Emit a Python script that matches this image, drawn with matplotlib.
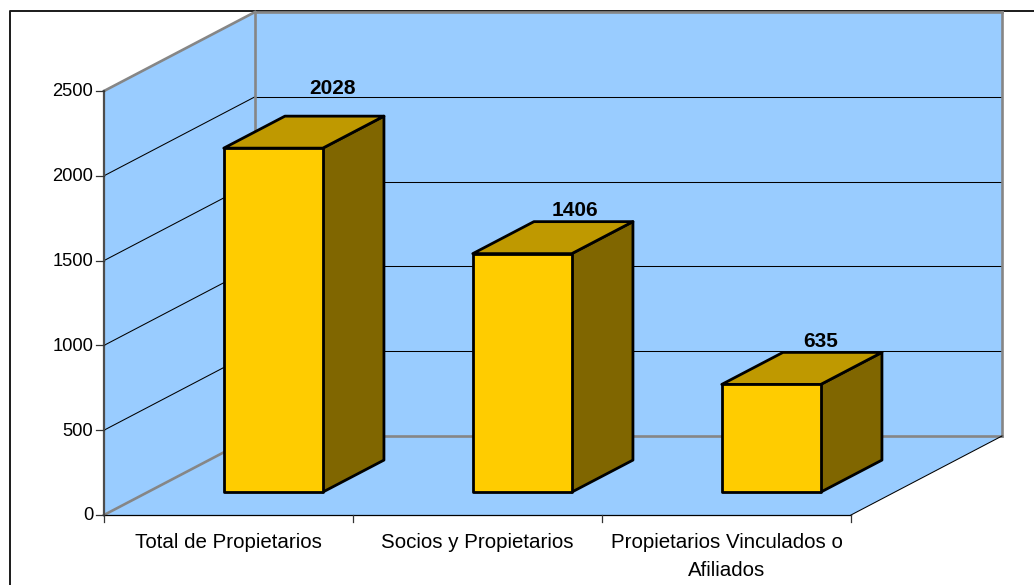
import matplotlib
matplotlib.use("Agg")
import matplotlib.pyplot as plt
from matplotlib.patches import Polygon

plt.rcParams["font.family"] = ["Liberation Sans", "DejaVu Sans"]

categories = ["Total de Propietarios", "Socios y Propietarios",
              "Propietarios Vinculados o\nAfiliados"]
values = [2028, 1406, 635]
y_ticks = [0, 500, 1000, 1500, 2000, 2500]

# chart box layout in pixels
X0, Y0 = 104, 515          # front corner of the value axis at zero
CAT_W = 249                # width of one category along the floor
PX_PER_UNIT = 424 / 2500
DEPTH_X, DEPTH_Y = 151, -79
BAR_W = 99
BAR_SHIFT = 1
BAR_D0, BAR_D1 = 0.29, 0.695   # bar front and back as fraction of chart depth
LABEL_OFFSETS = [(-2, -28), (-9, -11), (-12, -11)]  # from the bar's back top centre

WALL = "#99CCFF"
GRAY = "#868686"
BAR_FRONT = "#FFCC00"
BAR_TOP = "#BF9900"
BAR_SIDE = "#806600"


def pt(x, v=0, d=0.0):
    """Project axis x (px along the floor), value v and depth d to the canvas."""
    return (X0 + x + DEPTH_X * d, Y0 - v * PX_PER_UNIT + DEPTH_Y * d)


fig = plt.figure(figsize=(10.34, 5.85), dpi=100, facecolor="white")
ax = fig.add_axes([0, 0, 1, 1])
ax.set_xlim(0, 1034)
ax.set_ylim(585, 0)
ax.axis("off")

# outer frame runs off the canvas on the right and bottom
ax.plot([10, 10, 1040], [590, 10.5, 10.5], color="#1a1a1a", lw=1.4, zorder=1)

n = len(categories)
full_w = CAT_W * n
vmax = y_ticks[-1]

# walls and floor
ax.add_patch(Polygon([pt(0, 0, 1), pt(full_w, 0, 1), pt(full_w, vmax, 1), pt(0, vmax, 1)],
                     fc=WALL, ec="none", zorder=2))
ax.add_patch(Polygon([pt(0, 0, 0), pt(0, 0, 1), pt(0, vmax, 1), pt(0, vmax, 0)],
                     fc=WALL, ec="none", zorder=2))
ax.add_patch(Polygon([pt(0, 0, 0), pt(full_w, 0, 0), pt(full_w, 0, 1), pt(0, 0, 1)],
                     fc=WALL, ec="none", zorder=2))


def seg(a, b, **kw):
    ax.plot([a[0], b[0]], [a[1], b[1]], solid_capstyle="projecting", **kw)


# gridlines on the two walls
for v in y_ticks[1:-1]:
    seg(pt(0, v, 0), pt(0, v, 1), color="black", lw=0.75, zorder=3)
    seg(pt(0, v, 1), pt(full_w, v, 1), color="black", lw=0.75, zorder=3)

# wall outlines
seg(pt(0, vmax, 0), pt(0, vmax, 1), color=GRAY, lw=1.9, zorder=3)
seg(pt(0, vmax, 1), pt(full_w, vmax, 1), color=GRAY, lw=1.9, zorder=3)
seg(pt(full_w, vmax, 1), pt(full_w, 0, 1), color=GRAY, lw=1.9, zorder=3)
seg(pt(0, vmax, 1), pt(0, 0, 1), color=GRAY, lw=1.9, zorder=3)
seg(pt(0, 0, 1), pt(full_w, 0, 1), color=GRAY, lw=1.9, zorder=3)
seg(pt(0, 0, 0), pt(0, 0, 1), color=GRAY, lw=1.9, zorder=3)

# floor front and right edges
seg(pt(0, 0, 0), pt(full_w, 0, 0), color="black", lw=0.9, zorder=3)
seg(pt(full_w, 0, 0), pt(full_w, 0, 1), color="black", lw=0.75, zorder=3)

# value axis
seg(pt(0, 0, 0), pt(0, vmax, 0), color="#4d4d4d", lw=1.6, zorder=4)
for v in y_ticks:
    x, y = pt(0, v, 0)
    ax.plot([x - 8, x], [y, y], color="#333333", lw=0.9, zorder=4)
    ax.text(x - 11, y + 1, str(v), ha="right", va="center", fontsize=13.2, color="black", zorder=6)

# category axis ticks
for i in range(n + 1):
    x, y = pt(CAT_W * i, 0, 0)
    ax.plot([x, x], [y, y + 7], color="#333333", lw=0.9, zorder=4)

# bars, drawn as three faces
for i, (name, val) in enumerate(zip(categories, values)):
    left = CAT_W * (i + 0.5) - BAR_W / 2 + BAR_SHIFT
    right = left + BAR_W
    front = [pt(left, 0, BAR_D0), pt(right, 0, BAR_D0), pt(right, val, BAR_D0), pt(left, val, BAR_D0)]
    side = [pt(right, 0, BAR_D0), pt(right, 0, BAR_D1), pt(right, val, BAR_D1), pt(right, val, BAR_D0)]
    top = [pt(left, val, BAR_D0), pt(right, val, BAR_D0), pt(right, val, BAR_D1), pt(left, val, BAR_D1)]
    for verts, color in ((side, BAR_SIDE), (top, BAR_TOP), (front, BAR_FRONT)):
        ax.add_patch(Polygon(verts, fc=color, ec="black", lw=2.0, joinstyle="round", zorder=5))

    lx, ly = pt(left + BAR_W / 2, val, BAR_D1)
    dx, dy = LABEL_OFFSETS[i]
    ax.text(lx + dx, ly + dy, str(val), ha="center", va="center",
            fontsize=15.0, fontweight="bold", color="black", zorder=7)

    cx, cy = pt(CAT_W * (i + 0.5), 0, 0)
    ax.text(cx, cy + 18, name, ha="center", va="top", fontsize=14.8,
            color="black", linespacing=1.6, zorder=6)

fig.savefig("out.png", dpi=100, facecolor="white")
